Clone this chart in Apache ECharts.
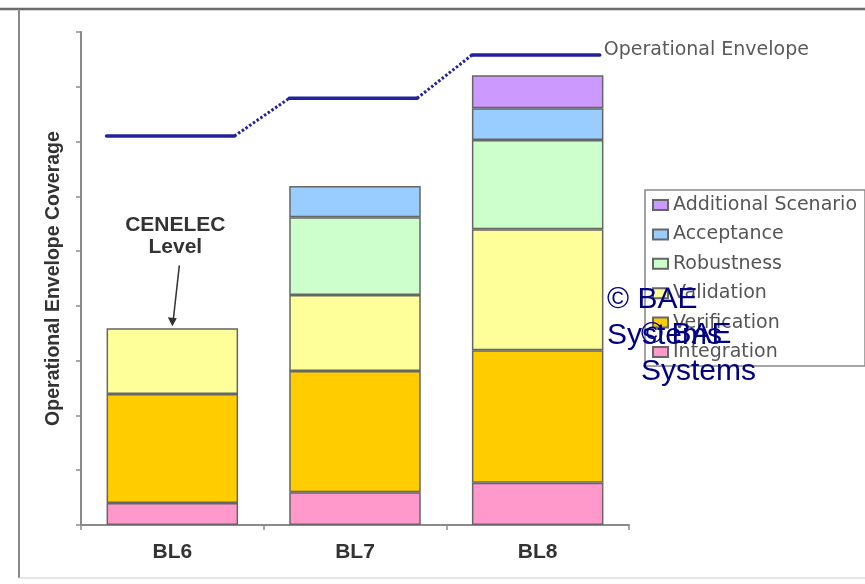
<!DOCTYPE html>
<html><head><meta charset="utf-8">
<script src="https://cdn.jsdelivr.net/npm/echarts@6/dist/echarts.min.js"></script>
<style>html,body{margin:0;padding:0;background:#fff}#c{width:865px;height:584px}</style>
</head><body><div id="c"></div>
<script>
// ---- data ----
const categories = ['BL6', 'BL7', 'BL8'];
const integration  = [0.40, 0.60, 0.77];
const verification = [1.99, 2.21, 2.42];
const validation   = [1.20, 1.39, 2.21];
const robustness   = [null, 1.42, 1.63];
const acceptance   = [null, 0.57, 0.58];
const additional   = [null, null, 0.60];
const envelope     = [7.10, 7.79, 8.58];
const seriesNames  = ['Integration', 'Verification', 'Validation', 'Robustness', 'Acceptance', 'Additional Scenario'];
const yAxisName = 'Operational Envelope Coverage';
const envelopeName = 'Operational Envelope';
const annotation = 'CENELEC\nLevel';
const watermark = '\u00A9 BAE\nSystems';

// ---- styles ----
const colors = ['#ff99cc', '#ffcc00', '#ffff99', '#ccffcc', '#99ccff', '#cc99ff'];
const lineColor = '#22229c';
const values = [integration, verification, validation, robustness, acceptance, additional];

const chart = echarts.init(document.getElementById('c'), null, {renderer: 'canvas'});

function renderEnvelope(params, api) {
  const i = api.value(0);
  const v = api.value(1);
  const p = api.coord([i, v]);
  const band = api.size([1, 0])[0];
  const x0 = p[0] - band * 0.36, x1 = p[0] + band * 0.34;
  const children = [{
    type: 'line', shape: {x1: x0, y1: p[1], x2: x1, y2: p[1]},
    style: {stroke: lineColor, lineWidth: 3.5, lineCap: 'round'}
  }];
  if (i < envelope.length - 1) {
    const q = api.coord([i + 1, envelope[i + 1]]);
    children.push({
      type: 'line', shape: {x1: x1, y1: p[1], x2: q[0] - band * 0.36, y2: q[1]},
      style: {stroke: lineColor, lineWidth: 3, lineDash: [2.5, 2]}
    });
  } else {
    children.push({
      type: 'text',
      style: {text: envelopeName, x: x1 + 4, y: p[1] - 5, fill: '#5a5a5a',
        fontSize: 19, fontFamily: '"DejaVu Sans"', align: 'left', verticalAlign: 'middle'}
    });
  }
  return {type: 'group', children: children};
}

const series = seriesNames.map((name, k) => ({
  name: name,
  type: 'bar',
  stack: 'total',
  barCategoryGap: '28%',
  data: values[k],
  itemStyle: {color: colors[k], borderColor: '#666', borderWidth: 1.5},
  emphasis: {disabled: true}
}));
series.push({
  type: 'custom',
  name: envelopeName,
  renderItem: renderEnvelope,
  data: envelope.map((v, i) => [i, v]),
  encode: {x: 0, y: 1},
  z: 5,
  silent: true
});

chart.setOption({
  animation: false,
  backgroundColor: '#ffffff',
  grid: {left: 81, right: 236, top: 32, bottom: 59, containLabel: false},
  legend: {
    data: seriesNames.slice().reverse(),
    orient: 'vertical',
    left: 645, top: 190,
    icon: 'rect',
    itemWidth: 15, itemHeight: 10, itemGap: 9.4,
    padding: [5, 8, 4, 7],
    borderColor: '#888', borderWidth: 1.5,
    selectedMode: false,
    textStyle: {fontFamily: '"DejaVu Sans"', fontSize: 19, color: '#555', lineHeight: 20}
  },
  xAxis: {
    type: 'category',
    data: categories,
    axisLine: {lineStyle: {color: '#8a8a8a', width: 2}},
    axisTick: {show: true, length: 5, lineStyle: {color: '#8a8a8a', width: 1.5}},
    axisLabel: {margin: 17, fontSize: 21, fontWeight: 'bold', color: '#333', fontFamily: '"Liberation Sans", Arial, sans-serif'}
  },
  yAxis: {
    type: 'value',
    min: 0, max: 9, interval: 1,
    name: yAxisName,
    nameLocation: 'middle',
    nameRotate: 90,
    nameGap: 17,
    nameTextStyle: {fontSize: 19.5, fontWeight: 'bold', color: '#333', fontFamily: '"Liberation Sans", Arial, sans-serif'},
    axisLine: {show: true, lineStyle: {color: '#8a8a8a', width: 2}},
    axisTick: {show: true, length: 5, lineStyle: {color: '#8a8a8a', width: 1.5}},
    axisLabel: {show: false},
    splitLine: {show: false}
  },
  series: series
});

// annotation anchored to top of BL6 stack
const bl6Total = values.reduce((s, arr) => s + (arr[0] || 0), 0);
const p = chart.convertToPixel({gridIndex: 0}, [0, bl6Total]);
chart.setOption({
  graphic: [
    {type: 'line', shape: {x1: 0, y1: 9, x2: 865, y2: 9}, style: {stroke: '#6a6a6a', lineWidth: 2.5}, silent: true},
    {type: 'line', shape: {x1: 19, y1: 9, x2: 19, y2: 578}, style: {stroke: '#8a8a8a', lineWidth: 2}, silent: true},
    {type: 'line', shape: {x1: 19, y1: 578, x2: 865, y2: 578}, style: {stroke: '#dddddd', lineWidth: 1.5}, silent: true},
    {type: 'text', x: p[0] + 3, y: p[1] - 92, silent: true,
      style: {text: annotation, align: 'center', verticalAlign: 'middle', fontSize: 21, fontWeight: 'bold',
        lineHeight: 22, fill: '#333', fontFamily: '"Liberation Sans", Arial, sans-serif'}},
    {type: 'line', silent: true, shape: {x1: p[0] + 7, y1: p[1] - 63, x2: p[0] + 1, y2: p[1] - 9},
      style: {stroke: '#333', lineWidth: 1.5}},
    {type: 'polygon', silent: true, shape: {points: [[p[0], p[1] - 2], [p[0] - 4.5, p[1] - 11], [p[0] + 4.5, p[1] - 10]]},
      style: {fill: '#333'}},
    {type: 'text', x: 607, y: 282, silent: true, z: 100,
      style: {text: watermark, fontSize: 30, lineHeight: 36, fill: '#000080', fontFamily: '"Liberation Sans", Arial, sans-serif', align: 'left', verticalAlign: 'top'}},
    {type: 'text', x: 641, y: 316, silent: true, z: 100,
      style: {text: watermark, fontSize: 30, lineHeight: 37, fill: '#000080', fontFamily: '"Liberation Sans", Arial, sans-serif', align: 'left', verticalAlign: 'top'}}
  ]
});
</script>
</body></html>
